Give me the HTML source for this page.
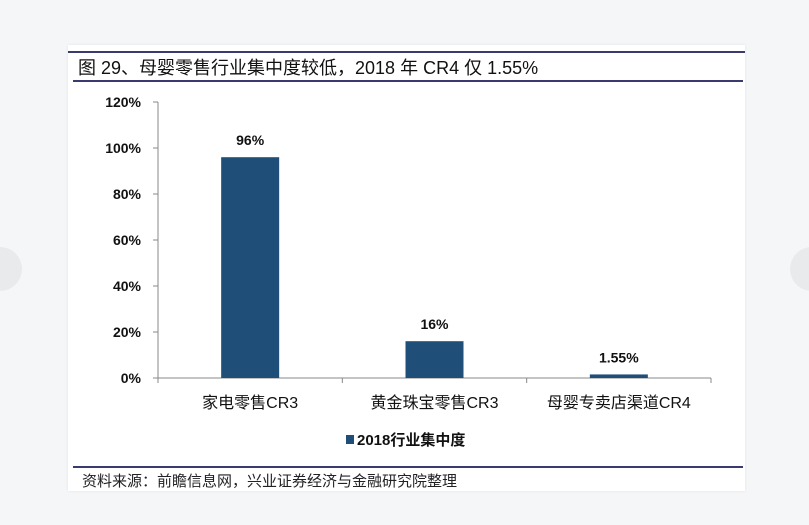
<!DOCTYPE html>
<html><head><meta charset="utf-8"><style>
body{margin:0;width:809px;height:525px;background:#f5f6f8;position:relative;overflow:hidden;font-family:"Liberation Sans","Noto Sans CJK SC",sans-serif}
.card{position:absolute;left:68px;top:45px;width:677px;height:446px;background:#fff;box-shadow:0 0 3px rgba(0,0,0,0.08)}
svg text{font-family:"Liberation Sans","Noto Sans CJK SC",sans-serif}
</style></head><body>
<div style="position:absolute;left:-22px;top:247px;width:44px;height:44px;border-radius:50%;background:#e9eaec"></div>
<div style="position:absolute;left:790px;top:247px;width:44px;height:44px;border-radius:50%;background:#e9eaec"></div>
<div class="card"></div>
<svg width="809" height="525" style="position:absolute;left:0;top:0">
<line x1="68" y1="52" x2="745" y2="52" stroke="#3b3a6e" stroke-width="2"/>
<text x="78" y="74" font-size="18" fill="#111" font-family="'Liberation Serif','Noto Serif CJK SC',serif">图 29、母婴零售行业集中度较低，2018 年 CR4 仅 1.55%</text>
<line x1="73" y1="81" x2="743" y2="81" stroke="#3b3a6e" stroke-width="2"/>
<g id="plot"></g>
<rect x="346" y="435" width="8" height="9" fill="#1f4e79"/>
<text x="357" y="445" font-size="15" font-weight="bold" fill="#111">2018行业集中度</text>
<line x1="73" y1="467" x2="743" y2="467" stroke="#3b3a6e" stroke-width="2"/>
<text x="82" y="486" font-size="15" fill="#222" font-family="'Liberation Serif','Noto Serif CJK SC',serif">资料来源：前瞻信息网，兴业证券经济与金融研究院整理</text>
</svg>
<script>
const categories=["家电零售CR3","黄金珠宝零售CR3","母婴专卖店渠道CR4"];
const values=[96,16,1.55];
const valueLabels=["96%","16%","1.55%"];
const yTicks=[0,20,40,60,80,100,120];
const x0=158,x1=711,yBase=378,yTop=102,yMax=120;
const bw=(x1-x0)/categories.length;
const y=v=>yBase-(v/yMax)*(yBase-yTop);
const xc=i=>x0+bw*(i+0.5);
const g=document.getElementById('plot');
const NS='http://www.w3.org/2000/svg';
function mk(t,a){const e=document.createElementNS(NS,t);for(const k in a)e.setAttribute(k,a[k]);g.appendChild(e);return e;}
let ax=mk('line',{x1:x0,y1:yTop,x2:x0,y2:yBase,stroke:'#888'});


yTicks.forEach(t=>{
 const tk=mk('line',{x1:x0-5,y1:y(t),x2:x0,y2:y(t),stroke:'#888'});
 
 
 const tl=mk('text',{x:x0-17,y:y(t)+5,'font-size':14,'font-weight':'bold','text-anchor':'end',fill:'#111'});
 tl.textContent=t+'%';
 
 
});
let xa=mk('line',{x1:x0,y1:yBase,x2:x1,y2:yBase,stroke:'#888'});


for(let i=0;i<=categories.length;i++){
 const tk=mk('line',{x1:x0+bw*i,y1:yBase,x2:x0+bw*i,y2:yBase+5,stroke:'#888'});
 
 
}
categories.forEach((c,i)=>{
 const b=mk('rect',{x:xc(i)-29,y:y(values[i]),width:58,height:yBase-y(values[i]),fill:'#1f4e79'});
 
 
 const vl=mk('text',{x:xc(i),y:y(values[i])-12,'font-size':14,'font-weight':'bold','text-anchor':'middle',fill:'#111'});
 vl.textContent=valueLabels[i];
 
 
 const cl=mk('text',{x:xc(i),y:408,'font-size':16,'text-anchor':'middle',fill:'#111'});
 cl.textContent=c;
 
 
});
</script>
</body></html>
